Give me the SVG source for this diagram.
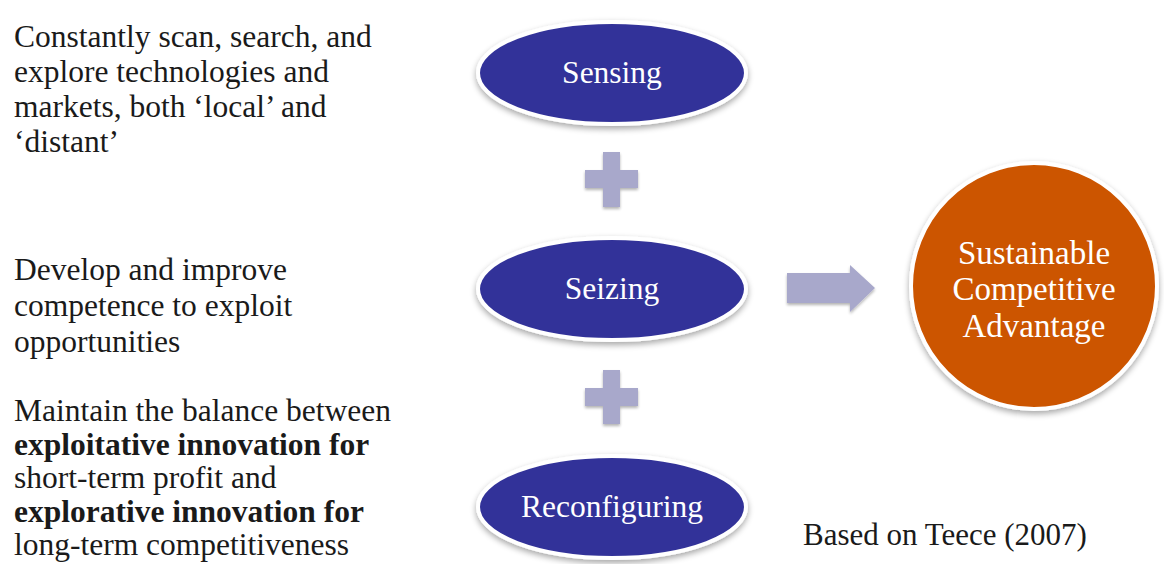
<svg xmlns="http://www.w3.org/2000/svg" width="1164" height="564" viewBox="0 0 1164 564">
  <style>
    .desc { font-family: "Liberation Serif", "Times New Roman", serif; font-size: 31.5px; fill: #1a1a1a; }
    .desc .b { font-weight: bold; }
    .cap { font-family: "Liberation Serif", "Times New Roman", serif; fill: #ffffff; text-anchor: middle; }
    .oval { fill: #333399; stroke: #ffffff; stroke-width: 4; filter: url(#shadow); }
    .goal { fill: #cc5500; stroke: #ffffff; stroke-width: 4; filter: url(#shadow); }
    .op { fill: #a8a8cb; filter: url(#softshadow); }
  </style>
  <defs>
    <filter id="shadow" x="-20%" y="-20%" width="140%" height="150%">
      <feGaussianBlur in="SourceAlpha" stdDeviation="3"/>
      <feOffset dx="0" dy="3" result="blur"/>
      <feComponentTransfer><feFuncA type="linear" slope="0.35"/></feComponentTransfer>
      <feMerge><feMergeNode/><feMergeNode in="SourceGraphic"/></feMerge>
    </filter>
    <filter id="softshadow" x="-20%" y="-20%" width="140%" height="150%">
      <feGaussianBlur in="SourceAlpha" stdDeviation="1.5"/>
      <feOffset dx="0" dy="2" result="blur"/>
      <feComponentTransfer><feFuncA type="linear" slope="0.3"/></feComponentTransfer>
      <feMerge><feMergeNode/><feMergeNode in="SourceGraphic"/></feMerge>
    </filter>
  </defs>

  <rect width="1164" height="564" fill="#ffffff"/>

  <!-- descriptions on the left -->
  <g id="desc-sensing">
    <text class="desc" x="14" y="47">Constantly scan, search, and</text>
    <text class="desc" x="14" y="82">explore technologies and</text>
    <text class="desc" x="14" y="117">markets, both ‘local’ and</text>
    <text class="desc" x="14" y="152">‘distant’</text>
  </g>
  <g id="desc-seizing">
    <text class="desc" x="14" y="280">Develop and improve</text>
    <text class="desc" x="14" y="316">competence to exploit</text>
    <text class="desc" x="14" y="352">opportunities</text>
  </g>
  <g id="desc-reconfiguring">
    <text class="desc" x="14" y="421">Maintain the balance between</text>
    <text class="desc" x="14" y="455"><tspan class="b">exploitative innovation for</tspan></text>
    <text class="desc" x="14" y="488">short-term profit and</text>
    <text class="desc" x="14" y="522"><tspan class="b">explorative innovation for</tspan></text>
    <text class="desc" x="14" y="555">long-term competitiveness</text>
  </g>

  <!-- plus signs and arrow -->
  <g id="connectors">
    <path class="op" d="M603,152 H620 V170 H638 V188 H620 V207 H603 V188 H585 V170 H603 Z"/>
    <path class="op" d="M603,370 H620 V388 H638 V406 H620 V424 H603 V406 H585 V388 H603 Z"/>
    <path class="op" d="M787,273 H850 V265 L875,288 L850,312 V303 H787 Z"/>
  </g>

  <!-- capability nodes -->
  <g id="sensing">
    <ellipse class="oval" cx="612" cy="73" rx="134" ry="51"/>
    <text class="cap" x="612" y="83" font-size="31.5">Sensing</text>
  </g>
  <g id="seizing">
    <ellipse class="oval" cx="612" cy="289" rx="134" ry="51"/>
    <text class="cap" x="612" y="299" font-size="31.5">Seizing</text>
  </g>
  <g id="reconfiguring">
    <ellipse class="oval" cx="612" cy="507" rx="134" ry="51"/>
    <text class="cap" x="612" y="517" font-size="31.5">Reconfiguring</text>
  </g>

  <!-- outcome -->
  <g id="advantage">
    <circle class="goal" cx="1034" cy="286" r="123"/>
    <text class="cap" x="1034" y="264" font-size="33">Sustainable</text>
    <text class="cap" x="1034" y="300" font-size="33">Competitive</text>
    <text class="cap" x="1034" y="337" font-size="33">Advantage</text>
  </g>

  <g id="source">
    <text class="desc" x="803" y="545" style="font-size:31px">Based on Teece (2007)</text>
  </g>
</svg>
